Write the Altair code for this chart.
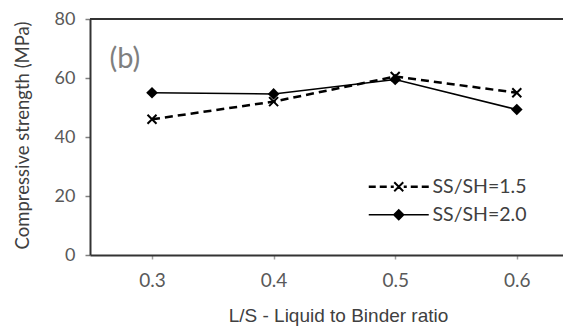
import altair as alt
import pandas as pd

# ---- data ----
ls_ratio = [0.3, 0.4, 0.5, 0.6]
ss_sh_15 = [46.0, 52.0, 60.5, 55.0]
ss_sh_20 = [55.0, 54.6, 59.5, 49.3]
series_names = ["SS/SH=1.5", "SS/SH=2.0"]
x_ticks = [0.3, 0.4, 0.5, 0.6]
y_ticks = [0, 20, 40, 60, 80]
panel_label = ["(b)"]
panel_label_x = [0.265]
panel_label_y = [66.5]

rows = []
for x, a, b in zip(ls_ratio, ss_sh_15, ss_sh_20):
    rows.append({"ls": x, "strength": a, "series": series_names[0]})
    rows.append({"ls": x, "strength": b, "series": series_names[1]})
df = pd.DataFrame(rows)
lab_df = pd.DataFrame({"x": panel_label_x, "y": panel_label_y, "t": panel_label})

# marker path for the X points
X_PATH = "M-1,-1L1,1M-1,1L1,-1"
# legend symbols built from filled outlines (line sample + marker)
X_BARS = ("M-0.76,-1.04L1.04,0.76L0.76,1.04L-1.04,-0.76Z"
          "M-1.04,0.76L0.76,-1.04L1.04,-0.76L-0.76,1.04Z")
LEG_DASH_X = ("M-6,-0.25H-4.6V0.25H-6Z"
              "M-3.8,-0.25H-2.4V0.25H-3.8Z"
              "M-1.6,-0.25H-1.0V0.25H-1.6Z"
              "M1.0,-0.25H1.6V0.25H1.0Z"
              "M2.4,-0.25H3.8V0.25H2.4Z"
              "M4.6,-0.25H6V0.25H4.6Z" + X_BARS)
LEG_SOLID_D = "M-6,-0.15H6V0.15H-6Z" + "M0,-1.2L1.2,0L0,1.2L-1.2,0Z"

x_enc = alt.X(
    "ls:Q",
    scale=alt.Scale(domain=[0.249, 0.638], nice=False, zero=False),
    axis=alt.Axis(values=x_ticks, format=".1f", title="L/S - Liquid to Binder ratio",
                  titleX=248, titleY=60, titleAlign="center", titleBaseline="middle",
                  titleFont="Liberation Sans", titleFontSize=19),
)
y_enc = alt.Y(
    "strength:Q",
    scale=alt.Scale(domain=[0, 80], nice=False),
    axis=alt.Axis(values=y_ticks, title="Compressive strength (MPa)",
                  titleX=-68, titleY=116, titleAngle=270, titleAlign="center",
                  titleBaseline="middle", titleFont="Lato", titleFontSize=18.5),
)

base = alt.Chart(df)

line15 = base.transform_filter(alt.datum.series == series_names[0]).mark_line(
    color="black", strokeWidth=2.5, strokeDash=[8, 5]
).encode(x=x_enc, y=y_enc)

line20 = base.transform_filter(alt.datum.series == series_names[1]).mark_line(
    color="black", strokeWidth=1.6
).encode(x=x_enc, y=y_enc)

pts15 = base.transform_filter(alt.datum.series == series_names[0]).mark_point(
    shape=X_PATH, size=81, stroke="black", strokeWidth=2, filled=False, opacity=1
).encode(x=x_enc, y=y_enc)

pts20 = base.transform_filter(alt.datum.series == series_names[1]).mark_point(
    shape="diamond", size=135, color="black", filled=True, opacity=1
).encode(x=x_enc, y=y_enc)

legend_layer = base.mark_point(
    filled=True, color="black", opacity=0, size=100
).encode(
    x=x_enc, y=y_enc,
    shape=alt.Shape(
        "series:N",
        scale=alt.Scale(domain=series_names, range=[LEG_DASH_X, LEG_SOLID_D]),
        legend=alt.Legend(
            title=None, orient="none", legendX=299, legendY=158,
            symbolSize=100, symbolOpacity=1, symbolStrokeWidth=0,
            symbolFillColor="black",
            labelOffset=24, labelFont="Lato", labelFontSize=19.5,
            labelColor="#404040", rowPadding=7, padding=0,
        ),
    ),
)

top_rule = alt.Chart(df).mark_rule(color="#333333", strokeWidth=2).encode(
    y=alt.datum(y_ticks[-1])
)

label = alt.Chart(lab_df).mark_text(
    align="left", baseline="middle", font="Lato", fontSize=29, color="#7f7f7f"
).encode(x=alt.X("x:Q"), y=alt.Y("y:Q"), text="t:N")

chart = alt.layer(
    top_rule, line15, line20, pts15, pts20, legend_layer, label
).properties(
    width=473, height=236,
    autosize=alt.AutoSizeParams(type="none"),
    padding={"left": 82, "top": 11, "right": 0, "bottom": 74},
).configure_view(stroke=None).configure_axis(
    grid=False, domainColor="#333333", domainWidth=2,
    labelFont="Lato", labelColor="#595959",
    titleColor="#404040", titleFontWeight="normal",
).configure_axisY(
    tickColor="#808080", tickSize=5, tickWidth=1.5, labelFontSize=18, labelPadding=10,
).configure_axisX(
    tickColor="#a0a0a0", tickSize=4, tickWidth=1.5, labelFontSize=19, labelPadding=12,
)

chart.save("out.html", embed_options={"renderer": "svg", "actions": False})
